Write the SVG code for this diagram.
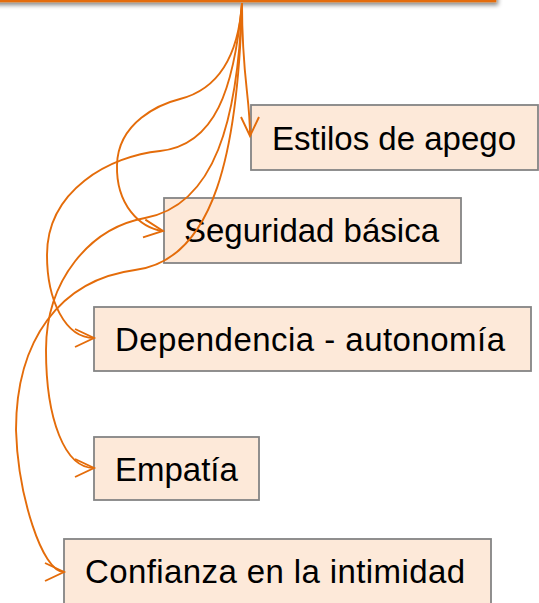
<svg xmlns="http://www.w3.org/2000/svg" width="539" height="603" viewBox="0 0 539 603">
<style>
.box{fill:#FDE9D9;stroke:#848484;stroke-width:1.8}
.lbl{font-family:"Liberation Sans",Arial,sans-serif;font-size:33px;fill:#000}
.con{fill:none;stroke:#E46C0A;stroke-width:1.9;marker-end:url(#ah)}
</style>
<defs>
<filter id="sh" x="-10%" y="-10%" width="130%" height="160%">
<feDropShadow dx="2" dy="3" stdDeviation="2" flood-color="#000" flood-opacity="0.45"/>
</filter>
<marker id="ah" markerUnits="userSpaceOnUse" markerWidth="30" markerHeight="30" viewBox="-25 -15 30 30" refX="0" refY="0" orient="auto" overflow="visible">
<path d="M-19,-9 L0,0 L-19,9" fill="none" stroke="#E46C0A" stroke-width="1.9"/>
</marker>
</defs>
<g id="node-top">
<rect x="-20" y="-60" width="515" height="61" fill="#FDE9D9" stroke="#E46C0A" stroke-width="2.5" filter="url(#sh)"/>
</g>
<g id="node-estilos">
<rect class="box" x="251" y="105" width="287" height="65"/>
<text class="lbl" x="272" y="150">Estilos de apego</text>
</g>
<g id="node-seguridad">
<rect class="box" x="164" y="198" width="297" height="65"/>
<text class="lbl" x="184" y="242">Seguridad básica</text>
</g>
<g id="node-dependencia">
<rect class="box" x="94" y="307" width="437" height="64"/>
<text class="lbl" x="115" y="351" textLength="390" lengthAdjust="spacing">Dependencia - autonomía</text>
</g>
<g id="node-empatia">
<rect class="box" x="94" y="437" width="165" height="63"/>
<text class="lbl" x="115" y="481">Empatía</text>
</g>
<g id="node-confianza">
<rect class="box" x="64" y="539" width="427" height="72"/>
<text class="lbl" x="85" y="583" textLength="380" lengthAdjust="spacing">Confianza en la intimidad</text>
</g>
<g id="connectors">
<path class="con" d="M242,3 C242,80 250,95 250,136"/>
<path class="con" d="M242,3 C238,60 215,90 180,99 C160,104 118,122 117,165 C116,205 140,228 163,231"/>
<path class="con" d="M242,3 C234,90 215,145 160,151 C110,156 47,190 47,255 C47,300 65,338 94,338"/>
<path class="con" d="M242,3 C238,120 215,205 145,218 C90,228 46,280 46,350 C46,420 65,468 94,468"/>
<path class="con" d="M242,3 C238,150 215,260 135,270 C60,280 16,340 16,430 C18,495 42,572 64,572"/>
</g>
</svg>
